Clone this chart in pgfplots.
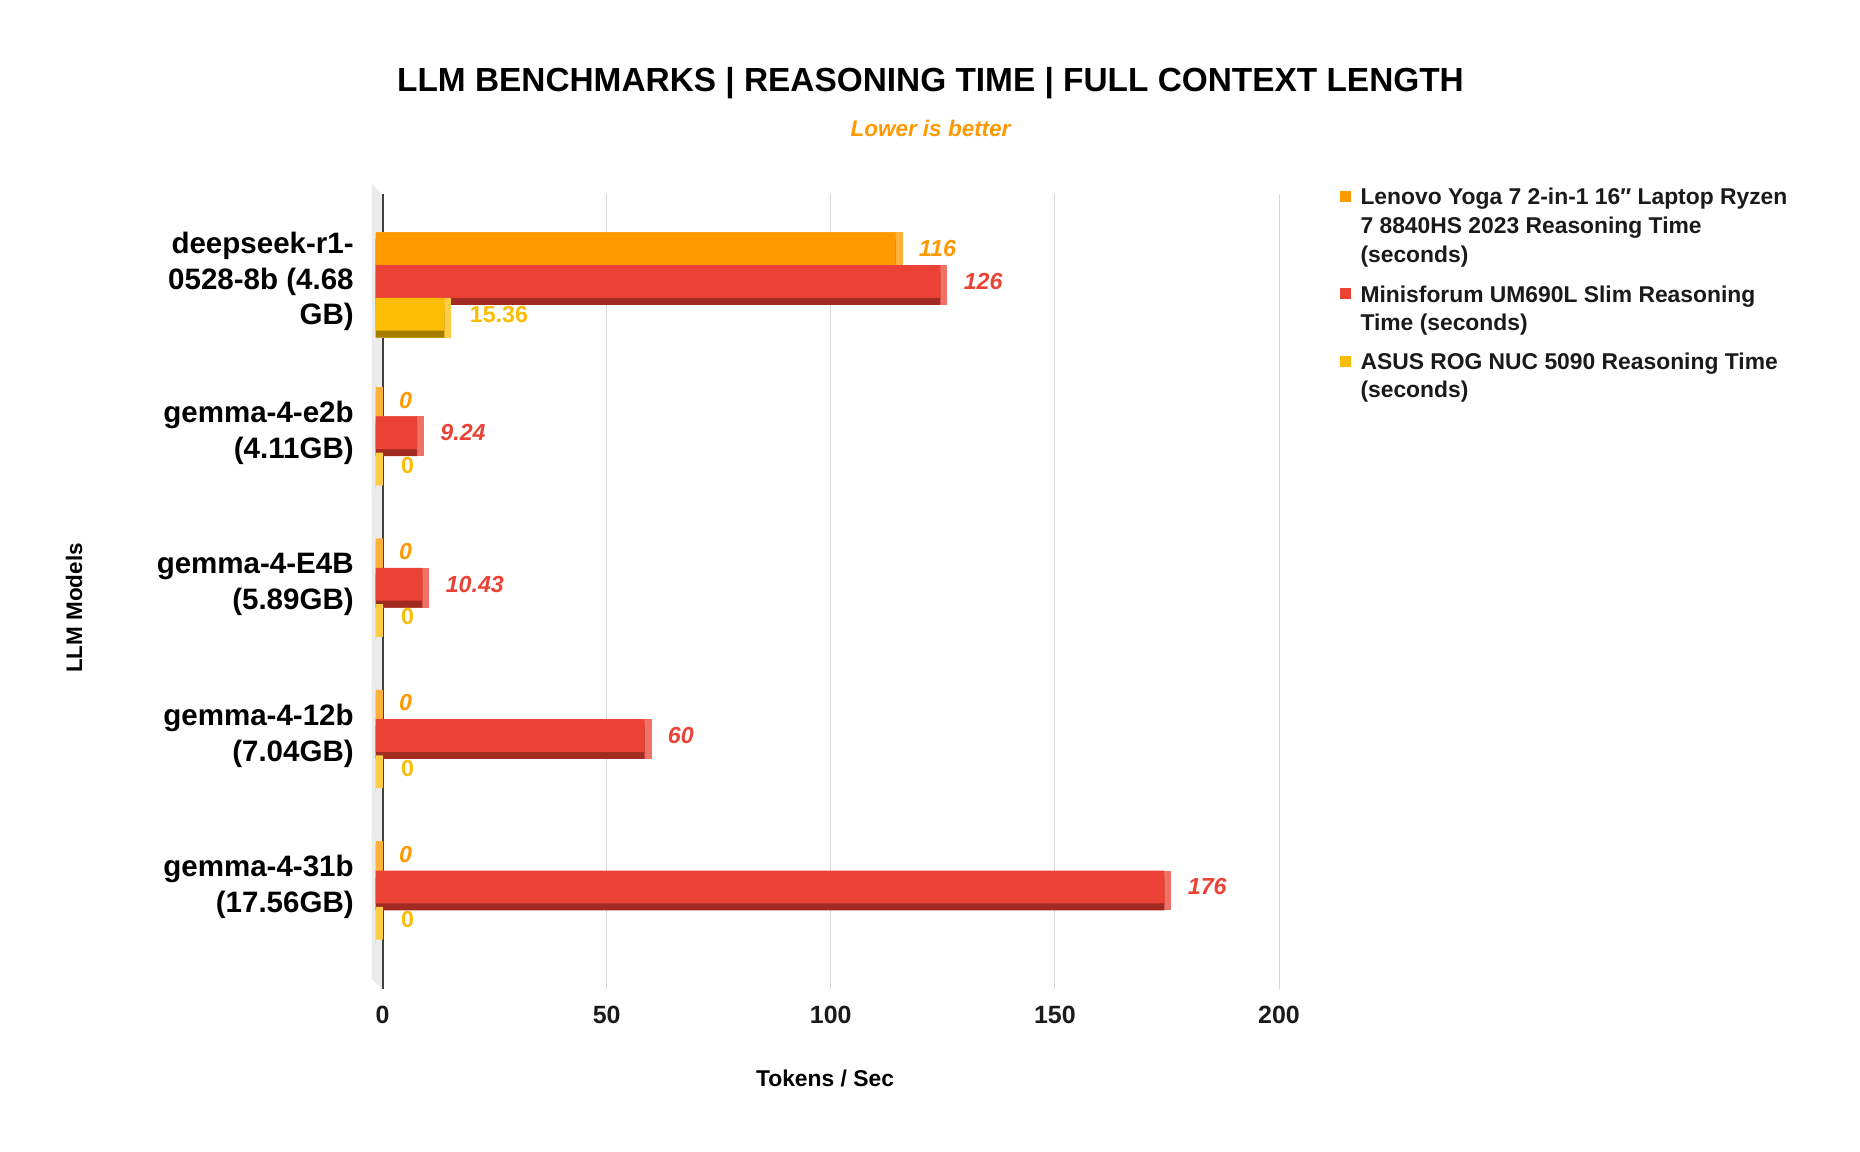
\documentclass[border=0pt]{standalone}
\usepackage{fontspec}
\setmainfont{Liberation Sans}
\usepackage{pgfplots}
\usepackage{pgfplotstable}
\pgfplotsset{compat=1.18}

\definecolor{cOrange}{HTML}{FF9900}
\definecolor{cOrangeL}{HTML}{FFB13D}
\definecolor{cOrangeD}{HTML}{A66300}
\definecolor{cRed}{HTML}{EA4335}
\definecolor{cRedL}{HTML}{F07166}
\definecolor{cRedD}{HTML}{A12B21}
\definecolor{cYellow}{HTML}{FBBC04}
\definecolor{cYellowL}{HTML}{FCCD45}
\definecolor{cYellowD}{HTML}{A67C00}
\definecolor{wallgray}{HTML}{EBEBEB}
\definecolor{gridgray}{HTML}{D6D6D6}
\definecolor{txt}{HTML}{1A1A1A}

\newcommand\fs[2]{\fontsize{#1}{#2}\selectfont}

% one table per series, categories at 4 (top) .. 0 (bottom)
\pgfplotstableread{
pos val
4 116
3 0
2 0
1 0
0 0
}\lenovo
\pgfplotstableread{
pos val
4 126
3 9.24
2 10.43
1 60
0 176
}\minis
\pgfplotstableread{
pos val
4 15.36
3 0
2 0
1 0
0 0
}\asus

\begin{document}
\begin{tikzpicture}
\path[use as bounding box] (0,0) rectangle (186mm,115.1mm);

\begin{axis}[
    at={(38.26mm,16.16mm)}, anchor=south west,
    scale only axis, width=89.64mm, height=79.5mm,
    xmin=0, xmax=200, ymin=-0.677, ymax=4.575,
    xbar, bar width=0.2166,
    clip=false,
    axis line style={draw=none},
    major tick length=0pt,
    xtick={0,50,100,150,200},
    ytick={0,1,2,3,4},
    yticklabels={{gemma-4-31b\\(17.56GB)},{gemma-4-12b\\(7.04GB)},{gemma-4-E4B\\(5.89GB)},{gemma-4-e2b\\(4.11GB)},{deepseek-r1-\\0528-8b (4.68\\GB)}},
    xmajorgrids=true,
    grid style={draw=gridgray, line width=0.1mm},
    /pgf/number format/assume math mode=true,
    xticklabel style={font=\fs{7.1}{8.5}\bfseries, text=txt, yshift=-0.45mm},
    yticklabel style={font=\fs{8.4}{10.2}\bfseries, text=black, align=right, xshift=-1.65mm},
    point meta=x,
]

% left wall and zero line
\fill[wallgray] (axis cs:0,4.575) -- ([xshift=-1.1mm,yshift=1.1mm]axis cs:0,4.575)
    -- ([xshift=-1.1mm,yshift=1.1mm]axis cs:0,-0.677) -- (axis cs:0,-0.677) -- cycle;
\draw[black!75, line width=0.2mm] (axis cs:0,-0.677) -- (axis cs:0,4.575);

% Lenovo: side, bottom, front
\addplot[forget plot, fill=cOrangeL, draw=cOrangeL, line width=0.7mm, xshift=-0.35mm, bar shift=0.1935] table[x=val,y=pos] {\lenovo};
\addplot[forget plot, fill=cOrangeD, draw=none, xshift=-0.7mm, bar shift=0.1704] table[x=val,y=pos] {\lenovo};
\addplot[fill=cOrange, draw=none, xshift=-0.7mm, bar shift=0.2166,
    nodes near coords,
    nodes near coords style={font=\fs{6.6}{8}\bfseries\itshape, text=cOrange, anchor=west, xshift=1.1mm}]
    table[x=val,y=pos] {\lenovo};

% Minisforum
\addplot[forget plot, fill=cRedL, draw=cRedL, line width=0.7mm, xshift=-0.35mm, bar shift=-0.0231] table[x=val,y=pos] {\minis};
\addplot[forget plot, fill=cRedD, draw=none, xshift=-0.7mm, bar shift=-0.0462] table[x=val,y=pos] {\minis};
\addplot[fill=cRed, draw=none, xshift=-0.7mm, bar shift=0,
    nodes near coords,
    nodes near coords style={font=\fs{6.6}{8}\bfseries\itshape, text=cRed, anchor=west, xshift=1.1mm}]
    table[x=val,y=pos] {\minis};

% ASUS
\addplot[forget plot, fill=cYellowL, draw=cYellowL, line width=0.7mm, xshift=-0.35mm, bar shift=-0.2397] table[x=val,y=pos] {\asus};
\addplot[forget plot, fill=cYellowD, draw=none, xshift=-0.7mm, bar shift=-0.2628] table[x=val,y=pos] {\asus};
\addplot[fill=cYellow, draw=none, xshift=-0.7mm, bar shift=-0.2166,
    nodes near coords,
    nodes near coords style={font=\fs{6.6}{8}\bfseries, text=cYellow, anchor=west, xshift=1.3mm}]
    table[x=val,y=pos] {\asus};
\end{axis}

% titles
\node[anchor=base, font=\fs{9.5}{11}\bfseries, text=black] at (93.05mm,105.9mm)
    {LLM BENCHMARKS | REASONING TIME | FULL CONTEXT LENGTH};
\node[anchor=base, font=\fs{6.4}{8}\bfseries\itshape, text=cOrange] at (93.05mm,101.4mm) {Lower is better};
\node[anchor=base, font=\fs{6.5}{8}\bfseries, text=black] at (82.5mm,6.45mm) {Tokens / Sec};
\node[rotate=90, font=\fs{6.4}{8}\bfseries, text=black] at (7.4mm,54.3mm) {LLM Models};

% legend
\fill[cOrange] (133.99mm,94.85mm) rectangle ++(1.1mm,1.1mm);
\fill[cRed]    (133.99mm,85.15mm) rectangle ++(1.1mm,1.1mm);
\fill[cYellow] (133.99mm,78.45mm) rectangle ++(1.1mm,1.1mm);
\begin{scope}[every node/.style={anchor=base west, inner sep=0pt, font=\fs{6.5}{8}\bfseries, text=txt}]
\node at (135.98mm,94.6mm) {Lenovo Yoga 7 2-in-1 16\symbol{"2033} Laptop Ryzen};
\node at (135.98mm,91.7mm) {7 8840HS 2023 Reasoning Time};
\node at (135.98mm,88.8mm) {(seconds)};
\node at (135.98mm,84.9mm) {Minisforum UM690L Slim Reasoning};
\node at (135.98mm,82.0mm) {Time (seconds)};
\node at (135.98mm,78.2mm) {ASUS ROG NUC 5090 Reasoning Time};
\node at (135.98mm,75.3mm) {(seconds)};
\end{scope}
\end{tikzpicture}
\end{document}
